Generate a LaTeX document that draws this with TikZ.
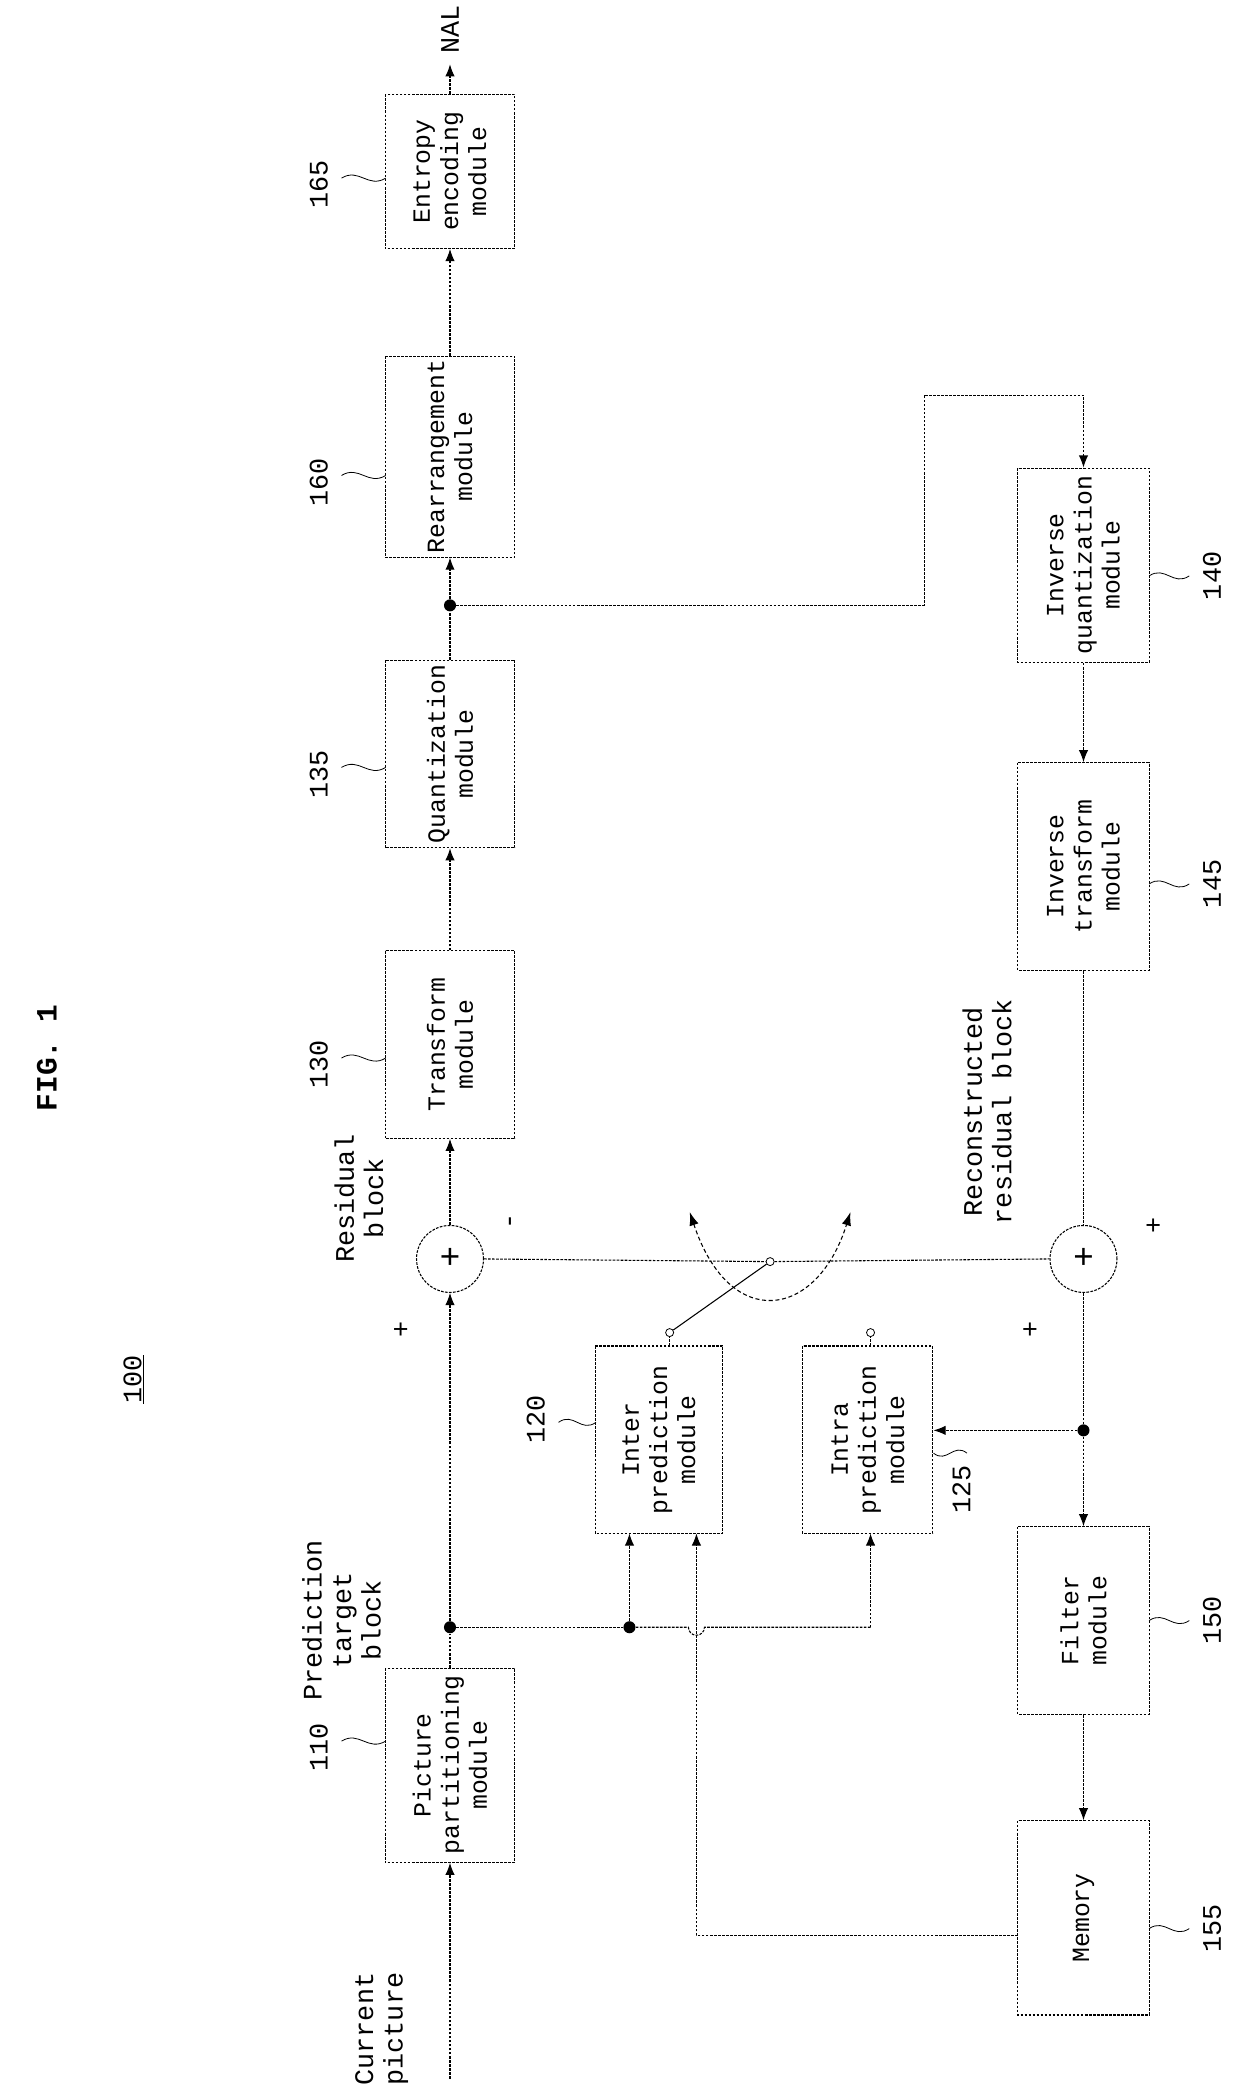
\documentclass[tikz,border=0pt]{standalone}
\usepackage{fontspec}
\setmainfont{Liberation Mono}
\usetikzlibrary{arrows.meta}
\begin{document}
\begin{tikzpicture}[x=1pt,y=-1pt,
  ln/.style={line width=0.8pt,densely dashed,dash pattern=on 2pt off 1pt},
  ar/.style={ln,-{Latex[length=9pt,width=7pt]}},
  box/.style={draw,ln,rotate=90,align=center,inner sep=0pt,font=\fontsize{18.5}{21}\selectfont},
  lab/.style={rotate=90,font=\fontsize{20}{22}\selectfont,align=center,inner sep=1pt},
  dot/.style={circle,fill,inner sep=0pt,minimum size=9pt},
  sw/.style={circle,draw,line width=0.6pt,inner sep=0pt,minimum size=6pt},
  add/.style={circle,draw,ln,minimum size=50pt,inner sep=0pt,font=\fontsize{26}{26}\selectfont}]
\useasboundingbox (0,0) rectangle (940,1568);
% boxes
\node[box,minimum width=145pt,minimum height=97pt] (b110) at (336,1318) {Picture\\partitioning\\module};
\node[box,minimum width=140pt,minimum height=97pt] (b130) at (336,780) {Transform\\module};
\node[box,minimum width=140pt,minimum height=97pt] (b135) at (336,563) {Quantization\\module};
\node[box,minimum width=150pt,minimum height=97pt] (b160) at (336,341) {Rearrangement\\module};
\node[box,minimum width=115pt,minimum height=97pt] (b165) at (336,128) {Entropy\\encoding\\module};
\node[box,minimum width=140pt,minimum height=95pt] (b120) at (492,1075) {Inter\\prediction\\module};
\node[box,minimum width=140pt,minimum height=97pt] (b125) at (648,1075) {Intra\\prediction\\module};
\node[box,minimum width=140pt,minimum height=98pt] (b150) at (809,1210) {Filter\\module};
\node[box,minimum width=145pt,minimum height=98pt] (b155) at (809,1432) {Memory};
\node[box,minimum width=155pt,minimum height=98pt] (b145) at (809,647) {Inverse\\transform\\module};
\node[box,minimum width=145pt,minimum height=98pt] (b140) at (809,422) {Inverse\\quantization\\module};
\node[add] (addA) at (336,940) {+};
\node[add] (addB) at (809,940) {+};
% junctions
\coordinate (in) at (336,1552);
\coordinate (nal) at (336,48);
\node[dot] (j1) at (336,1215) {};
\node[dot] (j2) at (470,1215) {};
\node[dot] (j3) at (336,452) {};
\node[dot] (j4) at (809,1068) {};
\node[sw] (s1) at (500,995) {};
\node[sw] (s2) at (650,995) {};
\node[sw] (s0) at (575,942) {};
% main path
\draw[ar] (in) -- (b110.west);
\draw[ln] (b110.east) -- (j1);
\draw[ar] (j1) -- (addA.south);
\draw[ar] (addA.north) -- (b130.west);
\draw[ar] (b130.east) -- (b135.west);
\draw[ln] (b135.east) -- (j3);
\draw[ar] (j3) -- (b160.west);
\draw[ar] (b160.east) -- (b165.west);
\draw[ar] (b165.east) -- (nal);
\draw[ar] (j3) -- (690,452) -- (690,295) -- (809,295) -- (b140.east);
\draw[ar] (b140.west) -- (b145.east);
\draw[ln] (b145.west) -- (addB.north);
\draw[ln] (addB.south) -- (j4);
\draw[ar] (j4) -- (b150.east);
\draw[ar] (j4) -- (697,1068);
\draw[ar] (b150.west) -- (b155.east);
\draw[ln] (j1) -- (j2);
\draw[ar] (j2) -- (470,1145);
\draw[ln] (j2) -- (514,1215) arc[start angle=180,end angle=0,radius=6] -- (650,1215);
\draw[ar] (650,1215) -- (650,1145);
\draw[ar] (760,1445) -- (520,1445) -- (520,1145);
\draw[ln] (addA.east) -- (s0) -- (addB.west);
\draw[ln] (500,1005) -- (s1);
\draw[ln] (650,1005) -- (s2);
\draw[line width=0.8pt] (s1) -- (s0);
\draw[line width=0.8pt,{Latex[length=10pt,width=7pt]}-{Latex[length=10pt,width=7pt]},densely dashed] (515,905) .. controls (545,995) and (610,985) .. (635,905);
% labels
\node[rotate=90,font=\bfseries\fontsize{22}{22}\selectfont] (fig) at (35,790) {FIG. 1};
\node[lab] (l100) at (100,1030) {\underline{100}};
\node[lab] (cur) at (285,1515) {Current\\picture};
\node[lab] (ptb) at (255,1210) {Prediction\\target\\block};
\node[lab] (rb) at (268,895) {Residual\\block};
\node[lab] (rrb) at (737,830) {Reconstructed\\residual block};
\node[lab] (nalt) at (336,22) {NAL};
\node[lab] (pA1) at (300,993) {+};
\node[lab] (mA) at (383,912) {-};
\node[lab] (pB1) at (770,993) {+};
\node[lab] (pB2) at (862,915) {+};
\node[lab] (n110) at (238,1305) {110};
\node[lab] (n130) at (238,795) {130};
\node[lab] (n135) at (238,578) {135};
\node[lab] (n160) at (238,360) {160};
\node[lab] (n165) at (238,138) {165};
\node[lab] (n120) at (400,1060) {120};
\node[lab] (n125) at (718,1112) {125};
\node[lab] (n150) at (905,1210) {150};
\node[lab] (n155) at (905,1440) {155};
\node[lab] (n145) at (905,660) {145};
\node[lab] (n140) at (905,430) {140};
\foreach \a/\b/\y in {255/288/1300,255/288/790,255/288/573,255/288/355,255/288/133,417/445/1062,722/697/1085,858/888/1210,858/888/1440,858/888/660,858/888/430}
  \draw[line width=0.6pt] (\a,\y) .. controls ({\a+(\b-\a)*0.4},\y-8) and ({\a+(\b-\a)*0.6},\y+8) .. (\b,\y);
\end{tikzpicture}
\end{document}
